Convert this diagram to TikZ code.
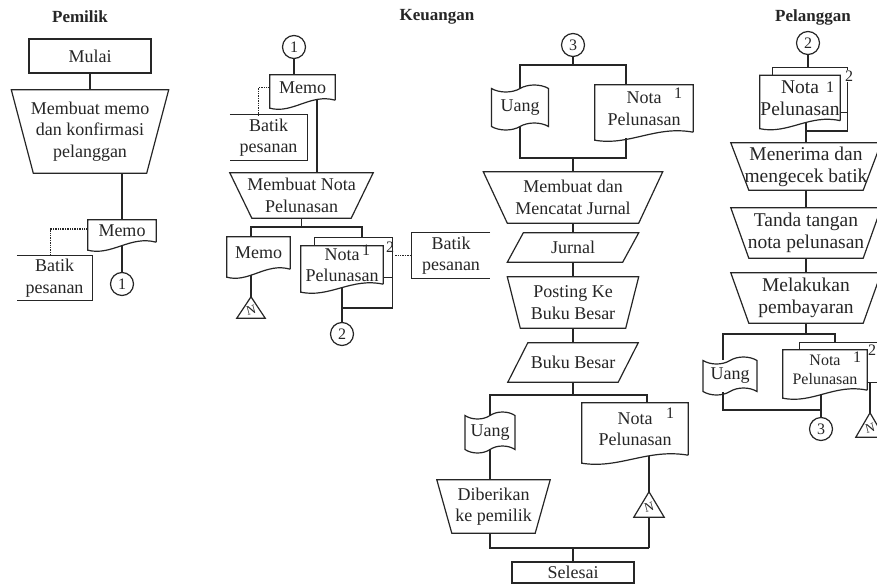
\documentclass[tikz,border=0pt]{standalone}
\usepackage{fontspec}
\setmainfont{Liberation Serif}
\usetikzlibrary{calc,shapes.symbols}

\definecolor{ink}{HTML}{262626}

\tikzset{
  ln/.style={draw=ink, line width=1.2pt},
  dots/.style={draw=ink, line width=1.4pt, densely dotted},
  base/.style={inner sep=0pt, align=center, text=ink, font=\fontsize{18}{21.5}\selectfont},
  sz/.style 2 args={minimum width=#1pt, minimum height=#2pt},
  ghost/.style={base, rectangle},
  box/.style={base, rectangle, draw=ink, line width=1.2pt},
  tapebox/.style={base, tape, draw=ink, line width=1.2pt, tape bend top=in and out,
                  tape bend bottom=in and out, tape bend height=7pt},
  conn/.style={base, circle, draw=ink, line width=1.2pt, minimum size=23pt,
               font=\fontsize{16}{16}\selectfont},
  title/.style={base, font=\fontsize{17}{20}\selectfont\bfseries},
  num/.style={base, font=\fontsize{16}{16}\selectfont},
  pel/.style={font=\fontsize{19.5}{22}\selectfont},
  smallnote/.style={font=\fontsize{16}{19}\selectfont},
}

% outlines drawn around named nodes
\newcommand\manualop[2]{\draw[ln] (#1.north west) -- (#1.north east) -- ([xshift=-#2]#1.south east) -- ([xshift=#2]#1.south west) -- cycle;}
\newcommand\slantbox[2]{\draw[ln] ([xshift=#2]#1.north west) -- (#1.north east) -- ([xshift=-#2]#1.south east) -- (#1.south west) -- cycle;}
\newcommand\docshape[1]{\draw[ln] (#1.south east) -- (#1.north east) -- (#1.north west) -- ([yshift=-8pt]#1.south west)
  .. controls ($(#1.south west)!0.35!(#1.south east)+(0,-14pt)$) and ($(#1.south west)!0.62!(#1.south east)+(0,7pt)$) .. (#1.south east);}
\newcommand\fileopenleft[1]{\draw[ln] (#1.north west) -- (#1.north east) -- (#1.south east) -- (#1.south west);}
\newcommand\fileopenright[1]{\draw[ln] (#1.north east) -- (#1.north west) -- (#1.south west) -- (#1.south east);}
\newcommand\offline[1]{\draw[ln] (#1.south west) -- (#1.north) -- (#1.south east) -- cycle;}
\newcommand\backcopy[2]{\draw[ln] (#1.west |- #2.north) -- (#1.north west) -- (#1.north east) -- (#1.south east) -- (#2.east |- #1.south);}
\newcommand\Nmark{\fontsize{13}{13}\selectfont\raisebox{-8pt}[0pt][0pt]{\rotatebox{15}{N}}}

\begin{document}
\begin{tikzpicture}[x=1pt,y=-1pt]
\useasboundingbox (0,0) rectangle (877,586);
\clip (0,0) rectangle (877,586);
\fill[white] (0,0) rectangle (877,586);

% ---------- headings ----------
\node[title] (tPem) at (80,17) {Pemilik};
\node[title] (tKeu) at (437,17) {Keuangan};
\node[title] (tPel) at (813,17) {Pelanggan};

% ---------- Pemilik ----------
\node[box, sz={122}{34}] (mulai) at (90,56) {Mulai};
\node[ghost, sz={157}{83}] (mo1) at (90,131.5) {Membuat memo\\dan konfirmasi\\pelanggan};
\manualop{mo1}{22pt}
\node[ghost, sz={68}{22}] (memo1) at (122,231) {Memo};
\docshape{memo1}
\node[ghost, sz={75}{44}] (batik1) at (54.5,278) {Batik\\pesanan};
\fileopenleft{batik1}
\node[conn] (c1a) at (122,284) {1};

\draw[ln] (mulai.south) -- (mo1.north);
\draw[ln] (memo1.north |- mo1.south) -- (memo1.north);
\draw[ln] ([yshift=-3.5pt]memo1.south) -- (c1a.north);
\draw[dots] ([yshift=2pt]memo1.west) -| ([xshift=-4pt]batik1.north);

% ---------- Keuangan: nota pelunasan ----------
\node[conn] (c1b) at (294,47) {1};
\node[ghost, sz={65}{25}] (memo2) at (302.5,87.5) {Memo};
\docshape{memo2}
\node[ghost, sz={77}{45}] (batik2) at (268.5,137.5) {Batik\\pesanan};
\fileopenleft{batik2}
\node[ghost, sz={143}{45}] (mo2) at (301.5,195.5) {Membuat Nota\\Pelunasan};
\manualop{mo2}{22pt}
\node[ghost, sz={63}{32}] (memo3) at (258.5,253) {Memo};
\docshape{memo3}
\node[ghost, sz={28}{21}] (tri1) at (251,307.5) {\Nmark};
\offline{tri1}
\node[ghost, sz={77}{39}] (copy2a) at (353.5,257.5) {};
\node[ghost, sz={82}{38}] (nota2a) at (342,265) {Nota\hspace{1.6em}\\Pelunasan};
\docshape{nota2a}
\backcopy{copy2a}{nota2a}
\node[num] (l1a) at (366,250) {1};
\node[num] (l2a) at (390,247) {2};
\node[conn] (c2a) at (342,334) {2};
\node[ghost, sz={78}{45}] (batik3) at (451,255.5) {Batik\\pesanan};
\fileopenright{batik3}

\coordinate (jAl) at (251,227);
\coordinate (jAr) at (362,227);
\coordinate (jB) at (342,308);
\draw[ln] (c1b.south) -- (c1b.south |- memo2.north);
\draw[dots] (memo2.west) -| ([xshift=-10pt]batik2.north);
\draw[ln] ([xshift=14.5pt]memo2.south) -- ([xshift=14.5pt]memo2.south |- mo2.north);
\draw[ln] (mo2.south) -- (mo2.south |- jAl);
\draw[ln] (jAl |- memo3.north) -- (jAl) -- (jAr) -- (jAr |- copy2a.north);
\draw[ln] ([yshift=-5.5pt]memo3.south -| tri1.north) -- (tri1.north);
\draw[ln] ([yshift=-3.5pt]nota2a.south) -- (jB) -- (c2a.north);
\draw[ln] (copy2a.south east) |- (jB);
\draw[dots] ([xshift=1pt]l2a.east |- batik3.west) -- (batik3.west);

% ---------- Keuangan: jurnal ----------
\node[conn] (c3a) at (573,45) {3};
\node[tapebox, sz={57}{45}] (uang1) at (520,107.5) {Uang};
\node[ghost, sz={98}{47}] (nota3a) at (644,108.5) {Nota\\Pelunasan};
\docshape{nota3a}
\node[num] (l1b) at (678,93) {1};
\node[ghost, sz={179}{51}] (mo3) at (573,197.5) {Membuat dan\\Mencatat Jurnal};
\manualop{mo3}{24pt}
\node[ghost, sz={131}{29}] (jurnal) at (573,247.5) {Jurnal};
\slantbox{jurnal}{16pt}
\node[ghost, sz={131}{51}] (mo4) at (573,302.5) {Posting Ke\\Buku Besar};
\manualop{mo4}{13pt}
\node[ghost, sz={130}{39}] (bukubesar) at (573,362.5) {Buku Besar};
\slantbox{bukubesar}{20pt}
\node[tapebox, sz={50}{41}] (uang2) at (490,432.5) {Uang};
\node[ghost, sz={113}{53}] (mo5) at (493.5,506.5) {Diberikan\\ke pemilik};
\manualop{mo5}{15pt}
\node[ghost, sz={106}{52}] (nota4) at (635,429) {Nota\\Pelunasan};
\docshape{nota4}
\node[num] (l1c) at (670,413) {1};
\node[ghost, sz={30}{25}] (tri2) at (649,504.5) {\Nmark};
\offline{tri2}
\node[box, sz={122}{21}] (selesai) at (573,572.5) {Selesai};

\coordinate (jCl) at (520,65);
\coordinate (jCr) at (626,65);
\coordinate (jDl) at (520,158);
\coordinate (jDr) at (626,158);
\coordinate (jEl) at (490,395);
\coordinate (jEr) at (647,395);
\coordinate (jF) at (649,548);
\draw[ln] (c3a.south) -- (c3a.south |- jCl);
\draw[ln] (uang1.north) -- (jCl) -- (jCr) -- (jCr |- nota3a.north);
\draw[ln] (uang1.south) -- (jDl) -- (jDr) -- ([yshift=-6pt]jDr |- nota3a.south);
\draw[ln] (mo3.north |- jDl) -- (mo3.north);
\draw[ln] (mo3.south) -- (jurnal.north);
\draw[ln] (jurnal.south) -- (mo4.north);
\draw[ln] (mo4.south) -- (bukubesar.north);
\draw[ln] (bukubesar.south) -- (bukubesar.south |- jEl);
\draw[ln] (uang2.north) -- (jEl) -- (jEr) -- (jEr |- nota4.north);
\draw[ln] (uang2.south) -- (uang2.south |- mo5.north);
\draw[ln] (uang2.south |- mo5.south) -- (uang2.south |- jF) -- (jF);
\draw[ln] ([yshift=-1pt]tri2.north |- nota4.south) -- (tri2.north);
\draw[ln] (tri2.south) -- (jF);
\draw[ln] (selesai.north |- jF) -- (selesai.north);

% ---------- Pelanggan ----------
\node[conn] (c2b) at (808,43) {2};
\node[ghost, sz={74}{44}] (copy2b) at (810,90) {};
\node[ghost, sz={80}{45}, pel] (nota2b) at (800,98) {Nota\hspace{1.4em}\\Pelunasan};
\docshape{nota2b}
\backcopy{copy2b}{nota2b}
\node[num] (l1d) at (830,87) {1};
\node[num, fill=white, inner sep=0.5pt] (l2b) at (849,76) {2};
\node[ghost, sz={150}{47}, pel] (mo6) at (806,166.5) {Menerima dan\\mengecek batik};
\manualop{mo6}{18pt}
\node[ghost, sz={150}{50}, pel] (mo7) at (806,233) {Tanda tangan\\nota pelunasan};
\manualop{mo7}{18pt}
\node[ghost, sz={150}{50}, pel] (mo8) at (806,298) {Melakukan\\pembayaran};
\manualop{mo8}{18pt}
\node[tapebox, sz={54}{38}] (uang3) at (730,376) {Uang};
\node[ghost, sz={90}{39}] (copy2c) at (845,362.5) {};
\node[ghost, sz={84}{40}, smallnote] (nota2c) at (825,370) {Nota\hspace{1.4em}\\Pelunasan};
\docshape{nota2c}
\backcopy{copy2c}{nota2c}
\node[num] (l1e) at (857,357) {1};
\node[num] (l2c) at (872,350) {2};
\node[conn] (c3b) at (821,429) {3};
\node[ghost, sz={28}{24}] (tri3) at (870,425) {\Nmark};
\offline{tri3}

\coordinate (jG) at (806,131);
\coordinate (jHl) at (723,334);
\coordinate (jHr) at (835,334);
\coordinate (jI) at (821,410);
\draw[ln] (c2b.south) -- (c2b.south |- copy2b.north);
\draw[ln] ([yshift=-2pt]mo6.north |- nota2b.south) -- (mo6.north);
\draw[ln] (copy2b.south east) |- (jG);
\draw[ln] (mo6.south) -- (mo7.north);
\draw[ln] (mo7.south) -- (mo8.north);
\draw[ln] (mo8.south) -- (mo8.south |- jHl);
\draw[ln] (jHl |- uang3.north) -- (jHl) -- (jHr) -- (jHr |- copy2c.north);
\draw[ln] (jHl |- uang3.south) -- (jHl |- jI) -- (jI);
\draw[ln] ([yshift=-4pt]c3b.north |- nota2c.south) -- (c3b.north);
\draw[ln] (tri3.north |- copy2c.south) -- (tri3.north);
\end{tikzpicture}
\end{document}
